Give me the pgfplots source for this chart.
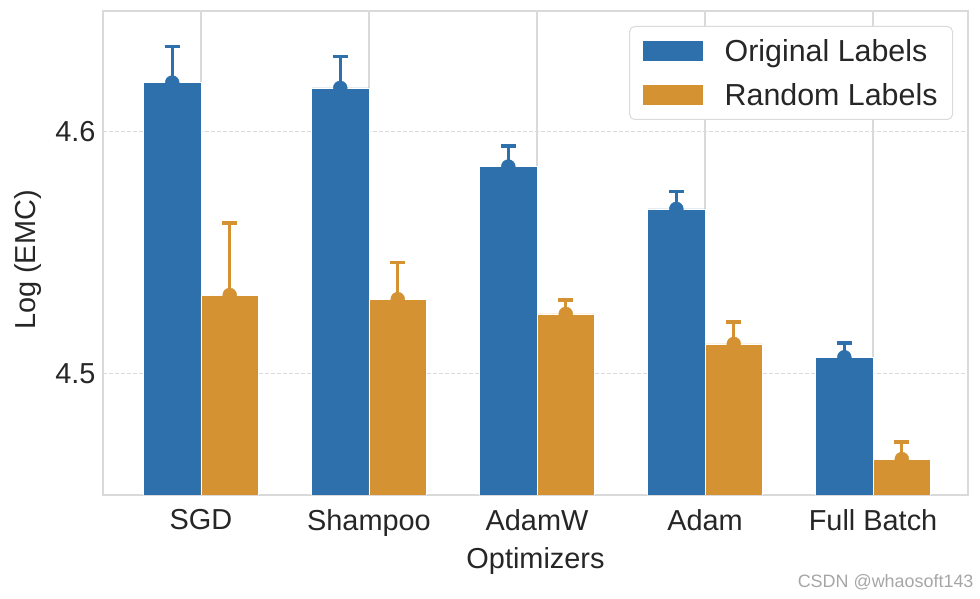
\documentclass[border=0pt]{standalone}
\usepackage{pgfplots}
\pgfplotsset{compat=1.18}
\usepackage{pgfplotstable}
\usepackage{fontspec}
\setmainfont{Liberation Sans}
\definecolor{cblue}{RGB}{46,112,171}
\definecolor{corange}{RGB}{212,146,50}
\definecolor{gridc}{RGB}{218,218,218}
\definecolor{txt}{RGB}{38,38,38}

\pgfplotstableread{
x o oe r re
0 4.6204 0.0149 4.5326 0.0297
1 4.6182 0.0129 4.5309 0.0151
2 4.5857 0.0085 4.5248 0.0058
3 4.5682 0.0073 4.5124 0.0091
4 4.5069 0.0060 4.4648 0.0072
}\datatable

\begin{document}
\begin{tikzpicture}
\path[use as bounding box] (0,0) rectangle (980bp,599bp);
\begin{axis}[
  at={(103bp,104bp)}, anchor=south west,
  scale only axis, width=865bp, height=484bp,
  xmin=-0.583, xmax=4.565, ymin=4.45, ymax=4.65,
  xtick={0,1,2,3,4}, xticklabels={SGD,Shampoo,AdamW,Adam,Full Batch},
  ytick={4.5,4.6},
  yticklabel style={/pgf/number format/fixed, /pgf/number format/precision=1, xshift=-4bp},
  xticklabel style={yshift=-11bp},
  /pgf/number format/assume math mode=true,
  major tick length=0pt,
  xmajorgrids, ymajorgrids,
  x grid style={gridc, line width=1.2bp},
  y grid style={gridc, line width=1bp, dash pattern=on 4bp off 2bp},
  axis line style={gridc, line width=1.5bp},
  tick label style={font=\fontsize{29}{34}\selectfont, text=txt},
  label style={font=\fontsize{29}{34}\selectfont, text=txt},
  xlabel={Optimizers}, ylabel={Log (EMC)},
  xlabel style={at={(axis description cs:0.5,-0.151)}, anchor=base},
  ylabel style={at={(axis description cs:-0.087,0.4855)}, anchor=center},
  legend style={at={(1,1)}, anchor=north east, xshift=-15bp, yshift=-15bp,
    draw=gridc, line width=1bp, rounded corners=5bp, fill=white,
    font=\fontsize{30.5}{35}\selectfont, text=txt,
    inner xsep=13bp, inner ysep=11bp, row sep=16bp,
    /tikz/every even column/.append style={column sep=0bp}},
  legend cell align=left,
  legend image code/.code={\fill[#1, draw=none, sharp corners] (0bp,-10bp) rectangle (60bp,10bp);},
]
\addplot[ybar, bar width=0.342, bar shift=-0.171, fill=cblue, draw=white, line width=0.8bp]
  table[x=x, y=o]{\datatable};
\addlegendentry{\hspace{20bp}Original Labels}
\addplot[ybar, bar width=0.342, bar shift=0.171, fill=corange, draw=white, line width=0.8bp]
  table[x=x, y=r]{\datatable};
\addlegendentry{\hspace{20bp}Random Labels}
\addplot[only marks, mark=*, mark size=7bp, cblue, mark options={draw=cblue, fill=cblue}, forget plot,
  error bars/y dir=plus, error bars/y explicit, error bars/error mark=|,
  error bars/error bar style={cblue, line width=3bp},
  error bars/error mark options={cblue, line width=3.5bp, mark size=7.5bp}]
  table[x expr=\thisrow{x}-0.171, y=o, y error=oe]{\datatable};
\addplot[only marks, mark=*, mark size=7bp, corange, mark options={draw=corange, fill=corange}, forget plot,
  error bars/y dir=plus, error bars/y explicit, error bars/error mark=|,
  error bars/error bar style={corange, line width=3bp},
  error bars/error mark options={corange, line width=3.5bp, mark size=7.5bp}]
  table[x expr=\thisrow{x}+0.171, y=r, y error=re]{\datatable};
\end{axis}
\node[anchor=east, text=black!35, font=\fontsize{18}{20}\selectfont] at (977bp,17bp) {CSDN @whaosoft143};
\end{tikzpicture}
\end{document}
